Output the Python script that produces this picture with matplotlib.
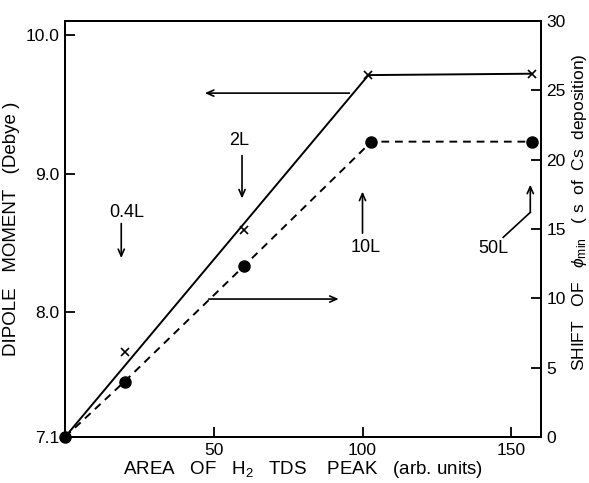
import matplotlib
matplotlib.use("Agg")
import matplotlib.pyplot as plt

plt.rcParams['font.family'] = ['Liberation Sans', 'DejaVu Sans']
plt.rcParams['mathtext.fontset'] = 'custom'
plt.rcParams['mathtext.rm'] = 'Liberation Sans'
plt.rcParams['mathtext.it'] = 'Liberation Sans:italic'

# Data
dip_line_x = [0, 102, 157]
dip_line_y = [7.1, 9.71, 9.72]
dip_x = [20, 60, 102, 157]
dip_y = [7.71, 8.59, 9.71, 9.72]

shift_x = [0, 20, 60, 103, 157]
shift_y = [0, 4.0, 12.3, 21.3, 21.3]

left_ticks = [7.1, 8.0, 9.0, 10.0]
left_labels = ["7.1", "8.0", "9.0", "10.0"]
bottom_ticks = [50, 100, 150]
right_ticks = [0, 5, 10, 15, 20, 25, 30]

fig = plt.figure(figsize=(5.89, 4.83), dpi=100)
ax = fig.add_axes([0.1104, 0.0952, 0.8081, 0.8613])
ax2 = ax.twinx()

lw = 1.4
ax.plot(dip_line_x, dip_line_y, color='black', lw=lw, solid_capstyle='butt')
ax.plot(dip_x, dip_y, linestyle='none', marker='x', ms=6, mew=1.2, color='black', clip_on=False)

ax2.plot(shift_x, shift_y, color='black', lw=lw, linestyle=(0, (4, 3)))
ax2.plot(shift_x, shift_y, linestyle='none', marker='o', ms=8, color='black', clip_on=False, zorder=5)

ax.set_xlim(0, 160)
ax.set_ylim(7.1, 10.1)
ax2.set_ylim(0, 30)

ax.set_xticks(bottom_ticks)
ax.set_xticklabels([str(t) for t in bottom_ticks])
ax.set_yticks(left_ticks)
ax.set_yticklabels(left_labels)
ax2.set_yticks(right_ticks)
ax2.set_yticklabels([str(t) for t in right_ticks])

fs = 12.5
ax.tick_params(axis='both', direction='in', length=7, width=1.3, labelsize=fs, pad=4)
ax2.tick_params(axis='y', direction='in', length=7, width=1.3, labelsize=fs, pad=4)
for a in (ax, ax2):
    for s in a.spines.values():
        s.set_linewidth(1.4)

ax.set_xlabel(r"AREA   OF   H$_2$   TDS    PEAK   (arb. units)", fontsize=13.5, labelpad=1)
ax.set_ylabel("DIPOLE   MOMENT   (Debye )", fontsize=13.5, labelpad=4)
ax2.set_ylabel(r"SHIFT   OF   $\phi_{\rm min}$   ( s  of  Cs  deposition)", fontsize=12.5, labelpad=2)
ax2.yaxis.set_label_coords(1.06, 0.54)

ap = dict(arrowstyle='->,head_length=0.5,head_width=0.22', color='black', lw=1.2, shrinkA=0, shrinkB=0)

# Horizontal arrows indicating axes
ax.annotate("", xy=(47, 9.58), xytext=(95.6, 9.58), arrowprops=ap)
ax2.annotate("", xy=(92, 9.95), xytext=(48.3, 9.95), arrowprops=ap)

# Exposure labels
afs = 13
ax.text(20.6, 8.72, "0.4L", ha='center', va='center', fontsize=afs)
ax.annotate("", xy=(18.9, 8.39), xytext=(18.9, 8.64), arrowprops=ap)
ax.text(58.4, 9.24, "2L", ha='center', va='center', fontsize=afs)
ax.annotate("", xy=(59.5, 8.82), xytext=(59.5, 9.13), arrowprops=ap)
ax.text(101, 8.47, "10L", ha='center', va='center', fontsize=afs)
ax.annotate("", xy=(100, 8.87), xytext=(100, 8.57), arrowprops=ap)
ax.text(144, 8.46, "50L", ha='center', va='center', fontsize=afs)
ax.plot([147.3, 156.4], [8.54, 8.72], color='black', lw=1.2)
ax.annotate("", xy=(156.4, 8.92), xytext=(156.4, 8.72), arrowprops=ap)

fig.savefig("out.png", dpi=100)
